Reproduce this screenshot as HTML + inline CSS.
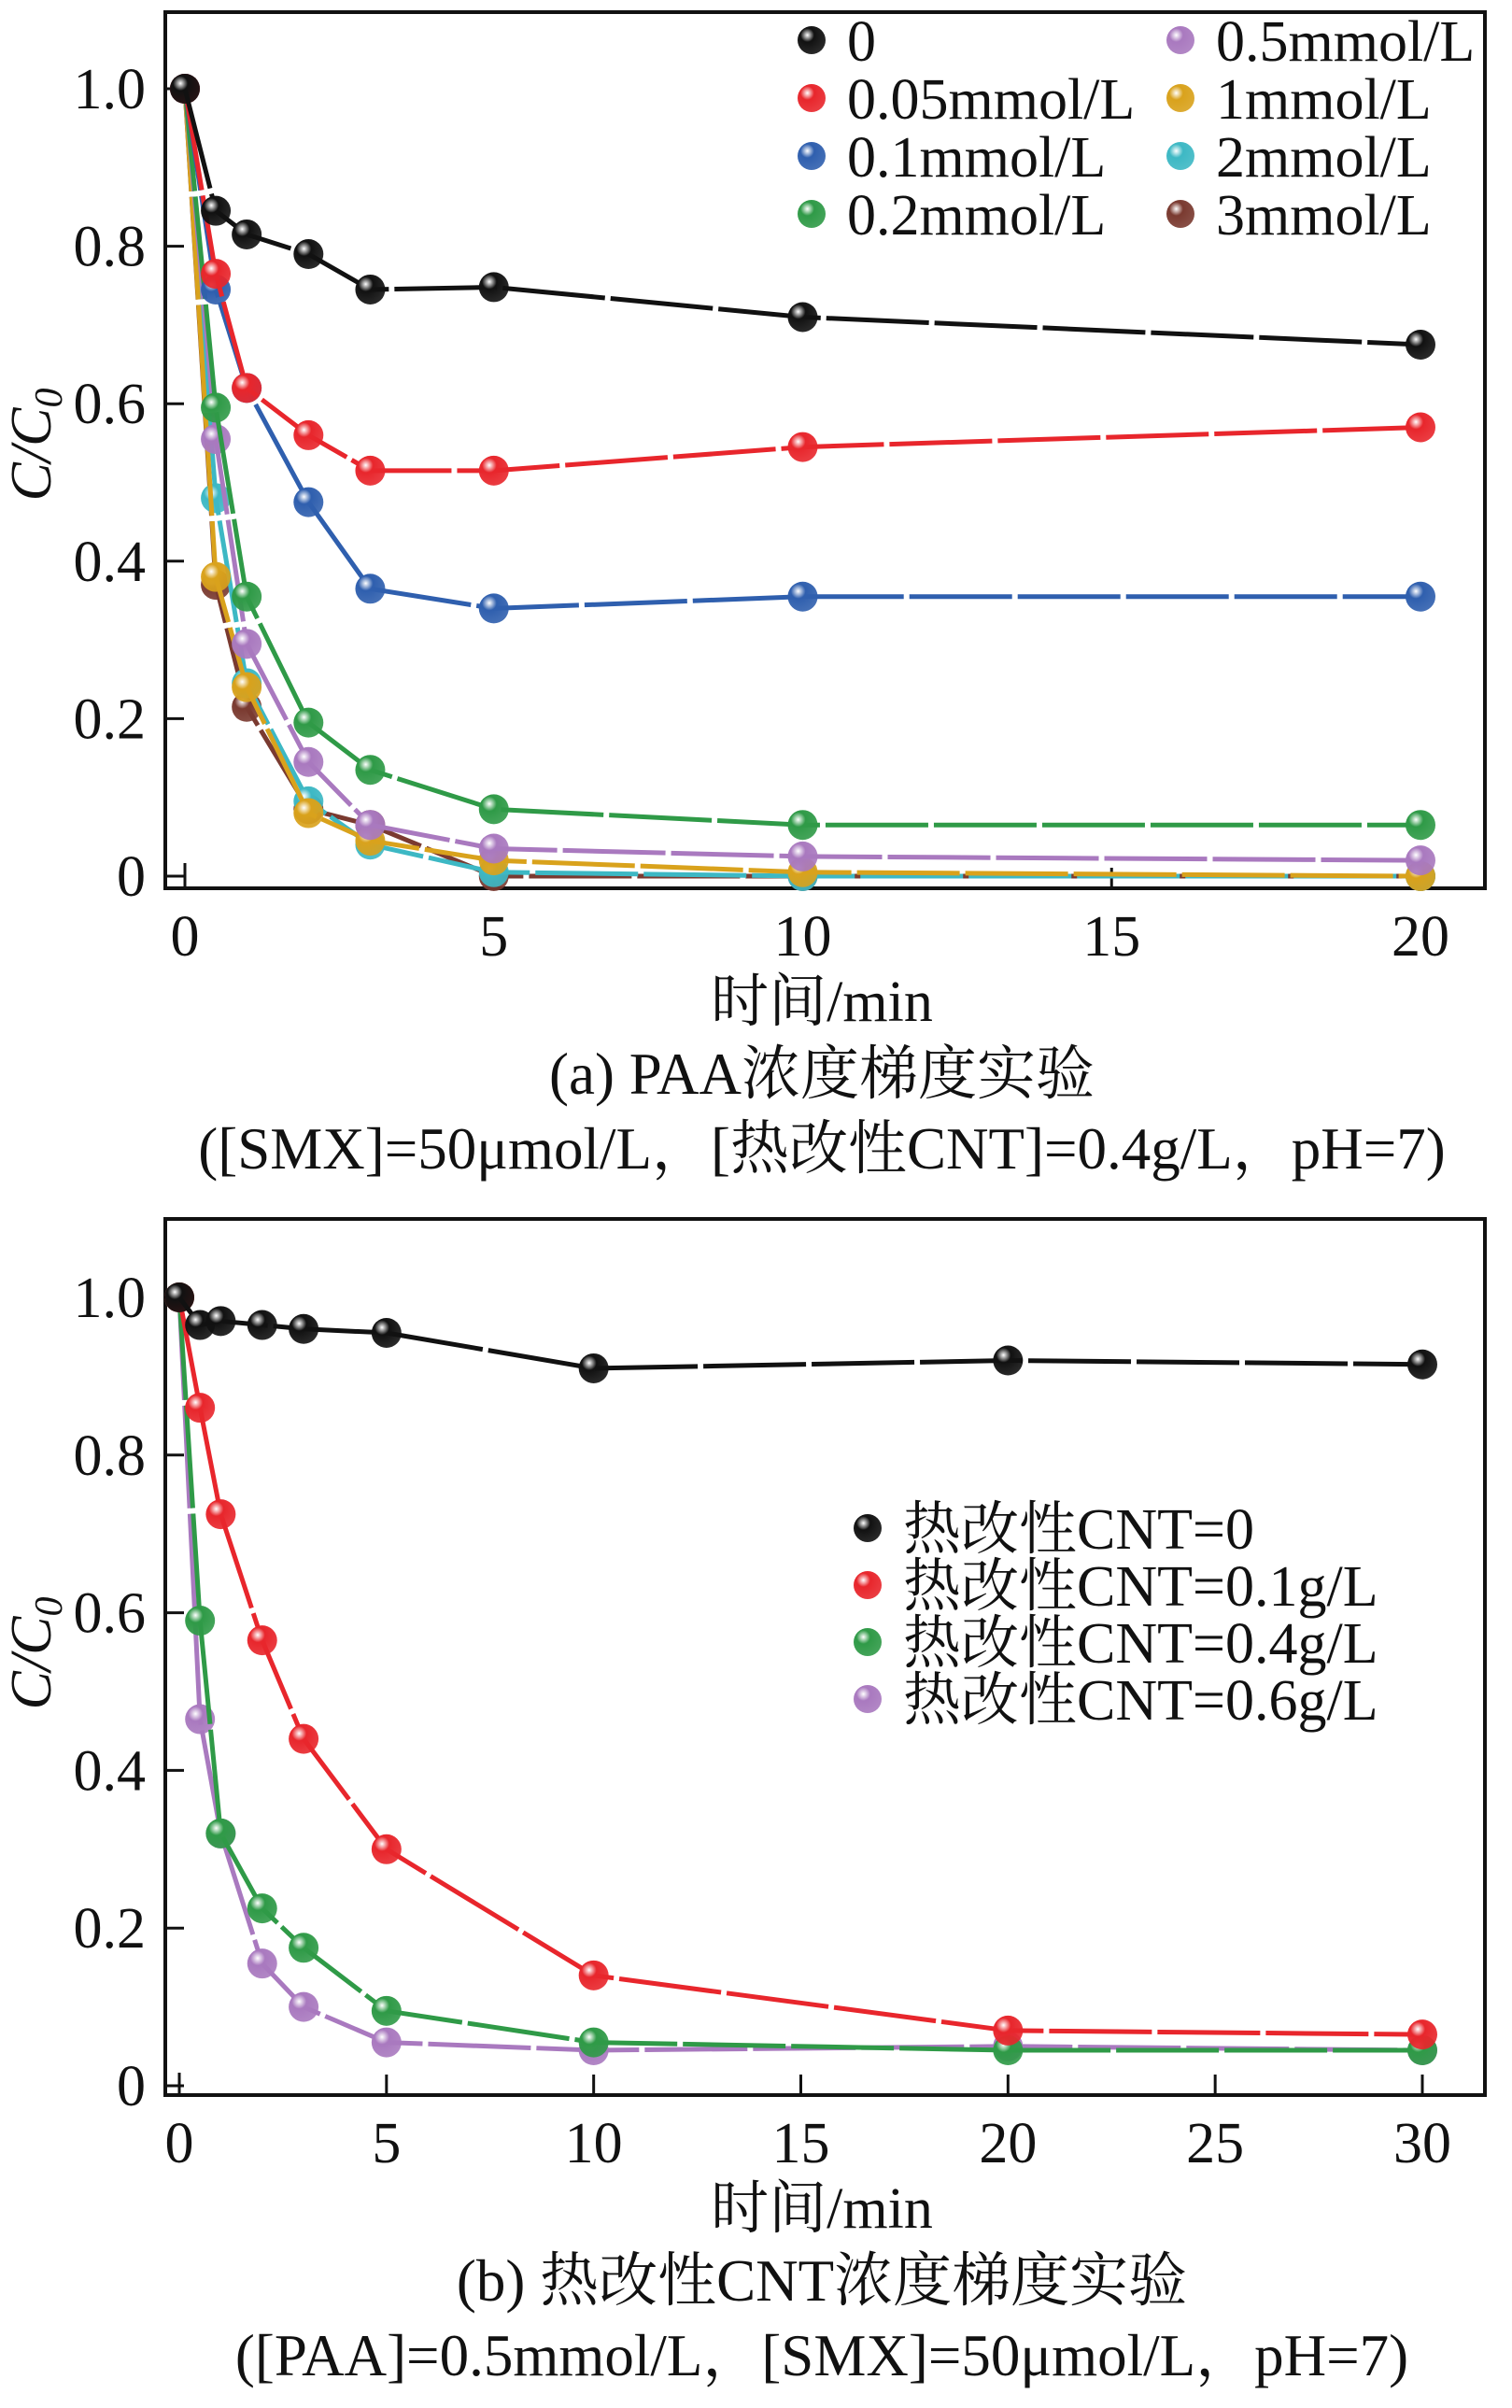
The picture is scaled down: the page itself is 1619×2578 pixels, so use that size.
<!DOCTYPE html>
<html><head><meta charset="utf-8"><style>
html,body{margin:0;padding:0;background:#fff}
svg{display:block}
text{font-family:"Liberation Serif","Noto Serif CJK SC",serif;fill:#111}
</style></head><body>
<svg id="svg" width="1619" height="2578" viewBox="0 0 1619 2578" xmlns="http://www.w3.org/2000/svg">
<defs id="defs"></defs>
</svg>
<script>
// Panel (a) data
const aX = [0,0.5,1,2,3,5,10,20];
const aNames = ["0","0.05mmol/L","0.1mmol/L","0.2mmol/L","0.5mmol/L","1mmol/L","2mmol/L","3mmol/L"];
const a0 = [1.0,0.845,0.815,0.79,0.745,0.748,0.71,0.675];
const a005 = [1.0,0.765,0.62,0.56,0.515,0.515,0.545,0.57];
const a01 = [1.0,0.745,0.62,0.475,0.365,0.34,0.355,0.355];
const a02 = [1.0,0.595,0.355,0.195,0.135,0.085,0.065,0.065];
const a05 = [1.0,0.555,0.295,0.145,0.065,0.035,0.025,0.02];
const a1 = [1.0,0.38,0.24,0.08,0.045,0.02,0.005,0.0];
const a2 = [1.0,0.48,0.245,0.095,0.04,0.005,0.0,0.0];
const a3 = [1.0,0.37,0.215,0.085,0.065,0.0,0.0,0.0];
const aXTicks = [0,5,10,15,20];
// Panel (b) data
const bX = [0,0.5,1,2,3,5,10,20,30];
const bNames = ["热改性CNT=0","热改性CNT=0.1g/L","热改性CNT=0.4g/L","热改性CNT=0.6g/L"];
const b0 = [1.0,0.965,0.97,0.965,0.96,0.955,0.91,0.92,0.915];
const b01 = [1.0,0.86,0.725,0.565,0.44,0.3,0.14,0.07,0.065];
const b04 = [1.0,0.59,0.32,0.225,0.175,0.095,0.055,0.045,0.045];
const b06 = [1.0,0.465,0.32,0.155,0.1,0.055,0.045,0.05,0.045];
const bXTicks = [0,5,10,15,20,25,30];
const yTicks = [0,0.2,0.4,0.6,0.8,1.0];
const yTickLabels = ["0","0.2","0.4","0.6","0.8","1.0"];

const NS="http://www.w3.org/2000/svg";
const svg=document.getElementById('svg'), defs=document.getElementById('defs');
function mk(tag,attrs,parent){const e=document.createElementNS(NS,tag);for(const k in attrs)e.setAttribute(k,attrs[k]);(parent||svg).appendChild(e);return e;}
const colors={black:"#111",red:"#e8262c",blue:"#2f5fae",green:"#2f9a47",purple:"#a979bf",gold:"#d9a21c",cyan:"#3db8c4",brown:"#7a3a30"};
for(const c in colors){
  const g=mk('radialGradient',{id:'g-'+c,cx:'0.35',cy:'0.32',r:'0.7'},defs);
  mk('stop',{offset:'0',"stop-color":"#fff"},g);
  mk('stop',{offset:'0.35',"stop-color":colors[c]},g);
  mk('stop',{offset:'1',"stop-color":colors[c],"stop-opacity":"0.9"},g);
}
function panel(p){
  const gp=mk('g',{});
  
  
  const sx=v=>p.x0+(v-p.xmin)*(p.x1-p.x0)/(p.xmax-p.xmin);
  const sy=v=>p.y0-(v)*(p.y0-p.y1);
  const fr=mk('rect',{x:177,y:p.top,width:1413,height:p.bot-p.top,fill:'none',stroke:'#111','stroke-width':4},gp);
  
  
  yTicks.forEach((t,i)=>{
    mk('line',{x1:177,x2:197,y1:sy(t),y2:sy(t),stroke:'#111','stroke-width':3},gp);
    const tx=mk('text',{x:156,y:sy(t)+21,'font-size':62,'text-anchor':'end'},gp);
    tx.textContent=yTickLabels[i];
    
    
  });
  p.xticks.forEach(t=>{
    mk('line',{x1:sx(t),x2:sx(t),y1:p.bot,y2:p.bot-22,stroke:'#111','stroke-width':3},gp);
    const tx=mk('text',{x:sx(t),y:p.bot+72,'font-size':62,'text-anchor':'middle'},gp);
    tx.textContent=String(t);
    
    
  });
  mk('line',{x1:sx(0),x2:sx(0),y1:sy(0)-14,y2:sy(0)+8,stroke:'#111','stroke-width':3},gp);
  const yt=mk('text',{x:0,y:0,'font-size':62,'font-style':'italic',transform:`translate(54 ${p.ymid}) rotate(-90)`,'text-anchor':'middle'},gp);
  yt.innerHTML='C/C<tspan font-size="42" dy="12">0</tspan>';
  
  
  const xt=mk('text',{x:880,y:p.bot+142,'font-size':62,'text-anchor':'middle'},gp);
  xt.textContent='时间/min';
  
  
  p.captions.forEach((c,i)=>{
    const ct=mk('text',{x:880,y:p.bot+220+i*80,'font-size':63,'text-anchor':'middle'},gp);
    ct.textContent=c;
    
    
  });
  for(let s=p.series.length-1;s>=0;s--){
    const ser=p.series[s];
    const sg=mk('g',{},gp);
    
    
    const pts=p.xs.map((x,i)=>sx(x)+','+sy(ser.v[i])).join(' ');
    mk('polyline',{points:pts,fill:'none',stroke:colors[ser.c],'stroke-width':5,'stroke-dasharray':'110 6','stroke-linejoin':'round'},sg);
    p.xs.forEach((x,i)=>{
      const c=mk('circle',{cx:sx(x),cy:sy(ser.v[i]),r:16,fill:`url(#g-${ser.c})`},sg);
      
      
    });
  }
  const lg=mk('g',{},gp);
  
  
  p.series.forEach((ser,i)=>{
    const pos=p.legendPos(i);
    const e=mk('g',{},lg);
    
    
    mk('circle',{cx:pos[0],cy:pos[1],r:15,fill:`url(#g-${ser.c})`},e);
    const t=mk('text',{x:pos[0]+38,y:pos[1]+22,'font-size':62},e);
    t.textContent=ser.label;
  });
}
panel({name:'panel-a',top:13,bot:951,x0:198,x1:1521,xmin:0,xmax:20,y0:938,y1:95,ymid:476,xs:aX,xticks:aXTicks,
  captions:['(a) PAA浓度梯度实验','([SMX]=50μmol/L，[热改性CNT]=0.4g/L，pH=7)'],
  series:[{key:'0',c:'black',v:a0},{key:'0-05',c:'red',v:a005},{key:'0-1',c:'blue',v:a01},{key:'0-2',c:'green',v:a02},
          {key:'0-5',c:'purple',v:a05},{key:'1',c:'gold',v:a1},{key:'2',c:'cyan',v:a2},{key:'3',c:'brown',v:a3}].map((s,i)=>({...s,label:aNames[i]})),
  legendPos:i=>[i<4?869:1264, 43+(i%4)*62]});
panel({name:'panel-b',top:1305,bot:2243,x0:192,x1:1523,xmin:0,xmax:30,y0:2233,y1:1389,ymid:1770,xs:bX,xticks:bXTicks,
  captions:['(b) 热改性CNT浓度梯度实验','([PAA]=0.5mmol/L，[SMX]=50μmol/L，pH=7)'],
  series:[{key:'cnt-0',c:'black',v:b0},{key:'cnt-0-1',c:'red',v:b01},{key:'cnt-0-4',c:'green',v:b04},{key:'cnt-0-6',c:'purple',v:b06}].map((s,i)=>({...s,label:bNames[i]})),
  legendPos:i=>[929,1636+i*61]});
</script>
</body></html>
